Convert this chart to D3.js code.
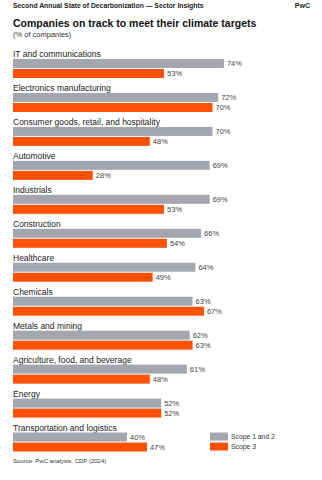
<!DOCTYPE html>
<html><head><meta charset="utf-8">
<script src="https://cdn.jsdelivr.net/npm/d3@7"></script>
<style>
html,body{margin:0;padding:0;background:#fff;}
svg{display:block;font-family:"Liberation Sans",Arial,Helvetica,sans-serif;}
</style></head>
<body>
<svg id="chart" width="322" height="480"></svg>
<script>
const categories = ["IT and communications","Electronics manufacturing","Consumer goods, retail, and hospitality","Automotive","Industrials","Construction","Healthcare","Chemicals","Metals and mining","Agriculture, food, and beverage","Energy","Transportation and logistics"];
const scope12 = [74,72,70,69,69,66,64,63,62,61,52,40];
const scope3 = [53,70,48,28,53,54,49,67,63,48,52,47];
const seriesNames = ["Scope 1 and 2","Scope 3"];
const colors = ["#a4a6b0","#fd5108"];

const svg = d3.select("#chart");
const x = d3.scaleLinear().domain([0,100]).range([13,298]);
const y = d3.scaleBand().domain(categories).range([50,457.5]).paddingInner(0).paddingOuter(0);
const step = y.step();
const barH = 9;

svg.append("text").attr("x",13).attr("y",8).attr("font-size",6.8).attr("font-weight",600).attr("fill","#222")
  .text("Second Annual State of Decarbonization \u2014 Sector Insights");
svg.append("text").attr("x",310).attr("y",8).attr("text-anchor","end").attr("font-size",7).attr("font-weight",700).attr("fill","#222").text("PwC");
svg.append("text").attr("x",13).attr("y",27).attr("font-size",10.5).attr("font-weight",700).attr("fill","#111")
  .text("Companies on track to meet their climate targets");
svg.append("text").attr("x",13).attr("y",37).attr("font-size",7.5).attr("fill","#333").text("(% of companies)");

const g = svg.selectAll("g.cat").data(categories).enter().append("g").attr("class","cat")
  .attr("transform",d=>`translate(0,${y(d)})`);
g.append("text").attr("x",13).attr("y",7).attr("font-size",8.5).attr("fill","#222").text(d=>d);
const series = [scope12, scope3];
series.forEach((vals,si)=>{
  g.append("rect").attr("x",x(0)).attr("y",9+si*10).attr("height",barH)
    .attr("width",(d,i)=>x(vals[i])-x(0)).attr("fill",colors[si]);
  g.append("text").attr("x",(d,i)=>x(vals[i])+3).attr("y",9+si*10+barH/2).attr("dy","0.35em")
    .attr("font-size",7.5).attr("fill","#444").text((d,i)=>vals[i]+"%");
});

const leg = svg.append("g").attr("transform",`translate(210,${y(categories[11])+9})`);
seriesNames.forEach((n,i)=>{
  leg.append("rect").attr("x",0).attr("y",i*10).attr("width",18).attr("height",8).attr("fill",colors[i]);
  leg.append("text").attr("x",21).attr("y",i*10+4).attr("dy","0.35em").attr("font-size",6.8).attr("fill","#333").text(n);
});

svg.append("text").attr("x",13).attr("y",463).attr("font-size",6).attr("fill","#333").text("Source: PwC analysis, CDP (2024)");
</script>
</body></html>
